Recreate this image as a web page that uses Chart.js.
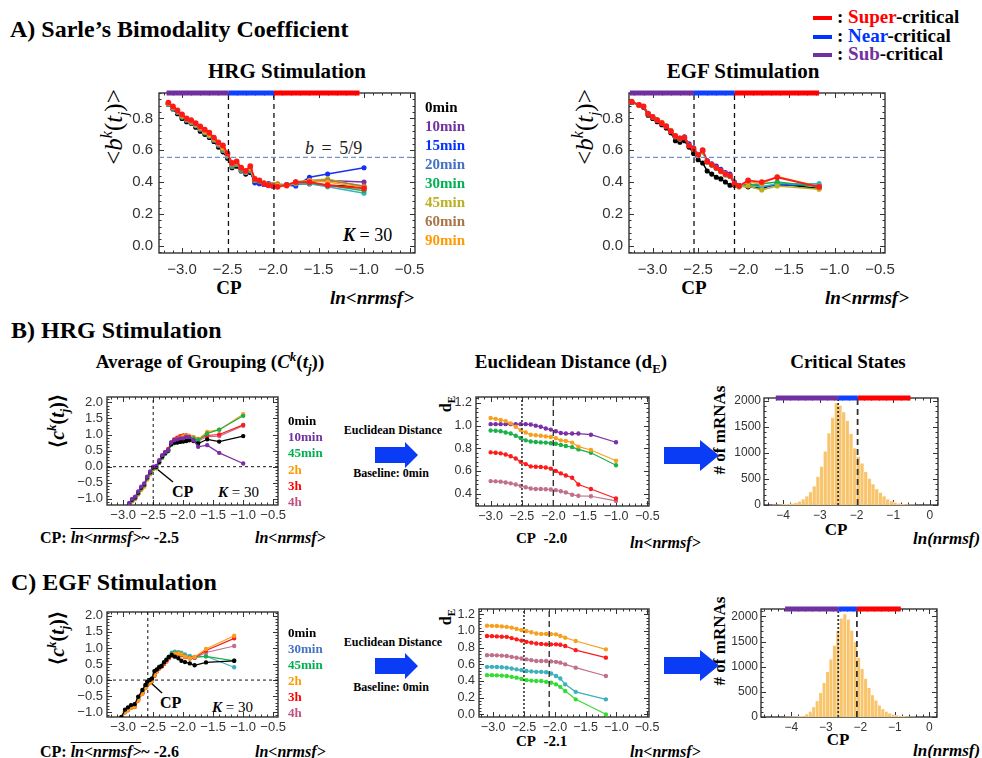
<!DOCTYPE html>
<html>
<head>
<meta charset="utf-8">
<script src="https://cdn.jsdelivr.net/npm/chart.js@4.4.1/dist/chart.umd.min.js"></script>
<style>
  html, body { margin: 0; padding: 0; background: #fff; }
  body { position: relative; width: 982px; height: 758px; overflow: hidden;
         font-family: "Liberation Serif", "Times New Roman", serif; }
  canvas { position: absolute; }
  svg { position: absolute; left: 0; top: 0; }
  .t { position: absolute; white-space: nowrap; font-weight: bold; line-height: 1; color: #000; }
  .c { transform: translateX(-50%); }
  .rot { transform: translate(-50%, -50%) rotate(-90deg); }
  .bi { font-style: italic; }
  sup, sub { line-height: 0; }
</style>
</head>
<body>

<!-- titles and labels -->
<div class="t" style="left:10px;top:17px;font-size:24px">A) Sarle’s Bimodality Coefficient</div>
<div class="t" style="left:837px;top:7px;font-size:19px">: <span style="color:#ff0000">Super</span>-critical</div>
<div class="t" style="left:837px;top:26px;font-size:19px">: <span style="color:#0033ff">Near</span>-critical</div>
<div class="t" style="left:837px;top:44px;font-size:19px">: <span style="color:#7030a0">Sub</span>-critical</div>

<div class="t c" style="left:287px;top:61px;font-size:21px">HRG Stimulation</div>
<div class="t c" style="left:743px;top:61px;font-size:21px">EGF Stimulation</div>
<div class="t rot" style="left:113px;top:127px;font-size:25px;font-weight:normal">&lt;<i>b</i><sup style="font-size:16px"><i>k</i></sup>(<i>t</i><sub style="font-size:15px"><i>j</i></sub>)&gt;</div>
<div class="t rot" style="left:584px;top:127px;font-size:25px;font-weight:normal">&lt;<i>b</i><sup style="font-size:16px"><i>k</i></sup>(<i>t</i><sub style="font-size:15px"><i>j</i></sub>)&gt;</div>
<div class="t" style="left:305px;top:139px;font-size:18px;font-weight:normal;color:#222;word-spacing:3px"><i>b</i> = 5/9</div>
<div class="t" style="left:343px;top:226px;font-size:18px;font-weight:normal"><b><i>K</i></b> = 30</div>
<div class="t c" style="left:229px;top:278px;font-size:19px">CP</div>
<div class="t c" style="left:694px;top:278px;font-size:19px">CP</div>
<div class="t bi" style="left:330px;top:288px;font-size:19px">ln&lt;nrmsf&gt;</div>
<div class="t bi" style="left:825px;top:288px;font-size:19px">ln&lt;nrmsf&gt;</div>

<div class="t" style="left:11px;top:318px;font-size:24px">B) HRG Stimulation</div>
<div class="t c" style="left:210px;top:352px;font-size:19px">Average of Grouping (<i>C</i><sup style="font-size:13px"><i>k</i></sup>(<i>t</i><sub style="font-size:13px"><i>j</i></sub>))</div>
<div class="t c" style="left:571px;top:352px;font-size:19px">Euclidean Distance (d<sub style="font-size:13px">E</sub>)</div>
<div class="t c" style="left:848px;top:352px;font-size:19px">Critical States</div>
<div class="t rot" style="left:57px;top:421px;font-size:20px">⟨<i>c</i><sup style="font-size:13px"><i>k</i></sup>(<i>t</i><sub style="font-size:12px"><i>j</i></sub>)⟩</div>
<div class="t" style="left:172px;top:484px;font-size:16px">CP</div>
<div class="t" style="left:218px;top:485px;font-size:15px;font-weight:normal"><b><i>K</i></b> = 30</div>
<div class="t" style="left:40px;top:530px;font-size:16px">CP: <span class="bi" style="text-decoration:overline">ln&lt;nrmsf&gt;</span>~ -2.5</div>
<div class="t bi" style="left:255px;top:530px;font-size:16px">ln&lt;nrmsf&gt;</div>
<div class="t c" style="left:393px;top:424px;font-size:12px">Euclidean Distance</div>
<div class="t c" style="left:391px;top:467px;font-size:12px">Baseline: 0min</div>
<div class="t rot" style="left:446px;top:404px;font-size:16px">d<sub style="font-size:11px">E</sub></div>
<div class="t" style="left:516px;top:531px;font-size:15px">CP&nbsp;&nbsp;-2.0</div>
<div class="t bi" style="left:630px;top:535px;font-size:16px">ln&lt;nrmsf&gt;</div>
<div class="t rot" style="left:719px;top:430px;font-size:17px"># of mRNAs</div>
<div class="t c" style="left:836px;top:521px;font-size:17px">CP</div>
<div class="t bi" style="left:913px;top:530px;font-size:17px">ln(nrmsf)</div>

<div class="t" style="left:11px;top:570px;font-size:24px">C) EGF Stimulation</div>
<div class="t rot" style="left:57px;top:638px;font-size:20px">⟨<i>c</i><sup style="font-size:13px"><i>k</i></sup>(<i>t</i><sub style="font-size:12px"><i>j</i></sub>)⟩</div>
<div class="t" style="left:160px;top:695px;font-size:16px">CP</div>
<div class="t" style="left:212px;top:700px;font-size:15px;font-weight:normal"><b><i>K</i></b> = 30</div>
<div class="t" style="left:40px;top:744px;font-size:16px">CP: <span class="bi" style="text-decoration:overline">ln&lt;nrmsf&gt;</span>~ -2.6</div>
<div class="t bi" style="left:255px;top:744px;font-size:16px">ln&lt;nrmsf&gt;</div>
<div class="t c" style="left:393px;top:636px;font-size:12px">Euclidean Distance</div>
<div class="t c" style="left:391px;top:681px;font-size:12px">Baseline: 0min</div>
<div class="t rot" style="left:446px;top:617px;font-size:16px">d<sub style="font-size:11px">E</sub></div>
<div class="t" style="left:516px;top:734px;font-size:15px">CP&nbsp;&nbsp;-2.1</div>
<div class="t bi" style="left:630px;top:744px;font-size:16px">ln&lt;nrmsf&gt;</div>
<div class="t rot" style="left:719px;top:641px;font-size:17px"># of mRNAs</div>
<div class="t c" style="left:838px;top:731px;font-size:17px">CP</div>
<div class="t bi" style="left:913px;top:742px;font-size:17px">ln(nrmsf)</div>

<svg width="982" height="758">
  <line x1="813" y1="18" x2="832" y2="18" stroke="#ff0000" stroke-width="4"/>
  <line x1="813" y1="37" x2="832" y2="37" stroke="#0033ff" stroke-width="4"/>
  <line x1="813" y1="55" x2="832" y2="55" stroke="#7030a0" stroke-width="4"/>
  <line x1="173" y1="482" x2="157" y2="469" stroke="#000" stroke-width="1.4"/>
  <line x1="162" y1="693" x2="150" y2="682" stroke="#000" stroke-width="1.4"/>
  <polygon points="375,447 405,447 405,442 418,455 405,468 405,463 375,463" fill="#0a3cf5"/>
  <polygon points="664,447 700,447 700,440 719,455.5 700,471 700,464 664,464" fill="#0a3cf5"/>
  <polygon points="375,658 405,658 405,653 418,666 405,679 405,674 375,674" fill="#0a3cf5"/>
  <polygon points="664,657 700,657 700,650 719,665.5 700,681 700,674 664,674" fill="#0a3cf5"/>
</svg>

<script>
// ---------- A) bimodality coefficient, HRG ----------
const hrgBX = [-3.15,-3.1,-3.05,-3.0,-2.95,-2.9,-2.85,-2.8,-2.75,-2.7,-2.65,-2.6,-2.55,-2.5,-2.45,-2.4,-2.35,-2.3,-2.25,-2.2,-2.15,-2.1,-2.05,-2.0,-1.95,-1.85,-1.75,-1.6,-1.4,-1.0];
const hrgB0  = [0.89,0.86,0.83,0.80,0.78,0.77,0.745,0.72,0.70,0.68,0.655,0.62,0.59,0.55,0.49,0.50,0.47,0.45,0.46,0.40,0.40,0.385,0.38,0.38,0.38,0.385,0.39,0.39,0.38,0.37];
const hrgB10 = [0.89,0.865,0.84,0.81,0.79,0.775,0.755,0.73,0.71,0.69,0.665,0.63,0.60,0.56,0.50,0.51,0.475,0.46,0.47,0.41,0.405,0.39,0.385,0.38,0.385,0.385,0.40,0.40,0.41,0.40];
const hrgB15 = [0.89,0.865,0.84,0.81,0.79,0.78,0.76,0.735,0.715,0.695,0.67,0.635,0.605,0.565,0.505,0.515,0.48,0.46,0.47,0.395,0.39,0.385,0.39,0.385,0.385,0.38,0.375,0.43,0.45,0.49];
const hrgB20 = [0.89,0.865,0.84,0.81,0.79,0.775,0.755,0.735,0.71,0.69,0.665,0.635,0.60,0.56,0.50,0.51,0.475,0.46,0.475,0.41,0.405,0.39,0.38,0.375,0.38,0.38,0.39,0.39,0.37,0.33];
const hrgB30 = [0.89,0.865,0.84,0.81,0.79,0.78,0.76,0.735,0.715,0.695,0.67,0.635,0.605,0.565,0.505,0.515,0.48,0.465,0.475,0.41,0.405,0.39,0.38,0.375,0.38,0.38,0.395,0.395,0.38,0.345];
const hrgB45 = [0.895,0.87,0.845,0.815,0.795,0.78,0.76,0.74,0.715,0.695,0.67,0.64,0.61,0.57,0.51,0.52,0.485,0.465,0.48,0.415,0.41,0.395,0.385,0.385,0.39,0.38,0.40,0.41,0.42,0.37];
const hrgB60 = [0.895,0.87,0.845,0.815,0.795,0.78,0.765,0.74,0.72,0.70,0.675,0.64,0.61,0.57,0.51,0.52,0.485,0.47,0.48,0.415,0.41,0.395,0.385,0.38,0.385,0.38,0.40,0.41,0.41,0.375];
const hrgB90 = [0.895,0.87,0.85,0.82,0.80,0.785,0.765,0.745,0.72,0.70,0.675,0.645,0.615,0.575,0.515,0.525,0.49,0.47,0.49,0.415,0.41,0.395,0.38,0.375,0.38,0.375,0.395,0.41,0.40,0.365];
const hrgBTop = [0.90,0.875,0.85,0.825,0.80,0.79,0.77,0.75,0.73,0.71,0.68,0.65,0.63,0.58,0.52,0.53,0.49,0.47,0.50,0.42,0.41,0.39,0.38,0.375,0.37,0.38,0.40,0.40,0.38,0.36];
const hrgBLabels = ["0min","10min","15min","20min","30min","45min","60min","90min"];
const hrgBCp = [-2.49, -1.99];
const hrgBBands = [-3.17, -2.49, -1.99, -1.05];

// ---------- A) bimodality coefficient, EGF ----------
const egfBX = [-3.23,-3.15,-3.1,-3.05,-3.0,-2.95,-2.9,-2.85,-2.8,-2.75,-2.7,-2.65,-2.6,-2.55,-2.5,-2.45,-2.4,-2.35,-2.3,-2.25,-2.2,-2.15,-2.1,-2.05,-1.95,-1.8,-1.63,-1.17];
const egfB0   = [0.90,0.885,0.87,0.82,0.80,0.78,0.76,0.74,0.71,0.66,0.65,0.66,0.62,0.58,0.54,0.52,0.47,0.45,0.43,0.42,0.40,0.38,0.38,0.375,0.37,0.36,0.39,0.36];
const egfB15  = [0.905,0.885,0.875,0.83,0.81,0.79,0.77,0.75,0.72,0.69,0.675,0.685,0.64,0.615,0.575,0.60,0.535,0.515,0.50,0.48,0.46,0.45,0.40,0.38,0.39,0.37,0.38,0.38];
const egfB20  = [0.905,0.885,0.875,0.83,0.81,0.79,0.77,0.75,0.72,0.685,0.67,0.68,0.63,0.61,0.57,0.59,0.53,0.51,0.49,0.47,0.45,0.44,0.395,0.375,0.38,0.37,0.39,0.39];
const egfB30  = [0.905,0.885,0.875,0.83,0.81,0.79,0.77,0.75,0.72,0.685,0.67,0.68,0.63,0.605,0.565,0.59,0.525,0.505,0.485,0.465,0.445,0.435,0.39,0.37,0.38,0.39,0.40,0.37];
const egfB45  = [0.905,0.885,0.875,0.83,0.81,0.79,0.775,0.755,0.725,0.69,0.675,0.68,0.63,0.61,0.57,0.595,0.53,0.51,0.49,0.47,0.45,0.44,0.39,0.37,0.375,0.35,0.375,0.355];
const egfB90  = [0.905,0.885,0.875,0.83,0.81,0.79,0.775,0.75,0.72,0.69,0.675,0.68,0.63,0.61,0.57,0.595,0.53,0.51,0.49,0.47,0.45,0.44,0.39,0.375,0.40,0.39,0.435,0.37];
const egfBTop = [0.905,0.885,0.875,0.83,0.81,0.79,0.77,0.75,0.72,0.69,0.675,0.68,0.63,0.61,0.57,0.60,0.53,0.51,0.49,0.47,0.45,0.44,0.39,0.375,0.41,0.40,0.43,0.37];
const egfBCp = [-2.545, -2.10];
const egfBBands = [-3.25, -2.545, -2.10, -1.17];
const bimodalLine = 5 / 9;

// ---------- B) average of grouping, HRG ----------
const hrgGX = [-2.9,-2.85,-2.8,-2.75,-2.7,-2.65,-2.6,-2.55,-2.5,-2.45,-2.4,-2.35,-2.3,-2.25,-2.2,-2.15,-2.1,-2.05,-2.0,-1.95,-1.9,-1.83,-1.75,-1.6,-1.4,-1.0];
const hrgG0   = [-1.15,-1.02,-0.95,-0.8,-0.65,-0.55,-0.33,-0.17,-0.02,0.0,0.15,0.32,0.42,0.5,0.7,0.75,0.75,0.77,0.78,0.80,0.82,0.80,0.72,0.85,0.78,0.95];
const hrgG10  = [-1.13,-1.0,-0.93,-0.77,-0.62,-0.52,-0.31,-0.15,0.0,0.02,0.2,0.36,0.45,0.52,0.75,0.82,0.85,0.88,0.88,0.93,0.92,0.82,0.62,0.67,0.43,0.10];
const hrgG45  = [-1.18,-1.05,-0.98,-0.83,-0.68,-0.58,-0.36,-0.2,-0.05,-0.03,0.12,0.28,0.40,0.48,0.68,0.73,0.76,0.80,0.84,0.88,0.88,0.88,0.82,1.03,1.15,1.58];
const hrgG2h  = [-1.2,-1.07,-1.0,-0.86,-0.72,-0.62,-0.40,-0.24,-0.08,-0.05,0.12,0.30,0.43,0.52,0.72,0.80,0.85,0.90,0.94,0.97,0.96,0.92,0.85,1.08,1.15,1.63];
const hrgG3h  = [-1.2,-1.07,-0.99,-0.85,-0.71,-0.6,-0.38,-0.22,-0.07,-0.04,0.14,0.32,0.45,0.55,0.75,0.85,0.90,0.95,0.97,0.98,0.95,0.92,0.86,0.97,1.0,1.30];
const hrgG4h  = [-1.19,-1.06,-0.98,-0.84,-0.7,-0.59,-0.37,-0.21,-0.06,-0.03,0.14,0.31,0.44,0.53,0.73,0.82,0.86,0.90,0.92,0.93,0.92,0.88,0.80,0.93,0.95,1.27];
const hrgGLabels = ["0min","10min","45min","2h","3h","4h"];
const hrgGCp = -2.5;

// ---------- C) average of grouping, EGF ----------
const egfGX = [-3.03,-2.97,-2.92,-2.87,-2.81,-2.75,-2.68,-2.63,-2.6,-2.56,-2.52,-2.48,-2.44,-2.4,-2.36,-2.32,-2.28,-2.24,-2.19,-2.14,-2.08,-2.03,-1.97,-1.89,-1.81,-1.62,-1.15];
const egfG0   = [-1.15,-0.92,-0.85,-0.78,-0.75,-0.52,-0.31,-0.15,-0.05,0.0,0.05,0.28,0.33,0.40,0.44,0.55,0.63,0.72,0.78,0.73,0.68,0.60,0.56,0.52,0.46,0.55,0.60];
const egfG30  = [-1.18,-0.98,-0.9,-0.82,-0.8,-0.6,-0.38,-0.2,-0.13,-0.05,0.0,0.18,0.3,0.42,0.44,0.55,0.62,0.72,0.85,0.88,0.87,0.85,0.80,0.75,0.72,0.74,0.40];
const egfG45  = [-1.18,-0.98,-0.9,-0.83,-0.8,-0.6,-0.38,-0.2,-0.13,-0.05,0.02,0.17,0.3,0.4,0.45,0.56,0.64,0.72,0.82,0.85,0.84,0.80,0.74,0.70,0.71,0.74,0.60];
const egfG2h  = [-1.2,-1.0,-0.93,-0.86,-0.83,-0.63,-0.42,-0.24,-0.16,-0.08,-0.02,0.14,0.28,0.38,0.44,0.52,0.60,0.70,0.77,0.82,0.83,0.80,0.73,0.68,0.72,0.97,1.38];
const egfG3h  = [-1.2,-1.0,-0.94,-0.86,-0.84,-0.64,-0.42,-0.25,-0.16,-0.08,-0.03,0.13,0.27,0.36,0.42,0.50,0.58,0.68,0.76,0.80,0.82,0.78,0.72,0.68,0.70,0.92,1.30];
const egfG4h  = [-1.19,-0.99,-0.92,-0.85,-0.82,-0.62,-0.4,-0.23,-0.15,-0.07,-0.02,0.14,0.28,0.37,0.43,0.51,0.59,0.69,0.76,0.80,0.81,0.78,0.72,0.67,0.69,0.86,1.06];
const egfGLabels = ["0min","30min","45min","2h","3h","4h"];
const egfGCp = -2.59;

// ---------- Euclidean distance ----------
const hrgDX = [-3.0,-2.92,-2.84,-2.76,-2.68,-2.6,-2.52,-2.44,-2.36,-2.28,-2.2,-2.12,-2.04,-1.96,-1.88,-1.8,-1.7,-1.6,-1.4,-1.0];
const hrgD2h  = [1.067,1.06,1.05,1.04,1.02,0.99,0.96,0.94,0.92,0.915,0.91,0.905,0.90,0.89,0.87,0.865,0.85,0.815,0.785,0.69];
const hrgD10  = [1.013,1.013,1.013,1.013,1.013,1.013,1.013,1.013,1.01,1.0,0.99,0.975,0.965,0.95,0.935,0.93,0.93,0.93,0.92,0.853];
const hrgD45  = [0.957,0.955,0.95,0.94,0.93,0.91,0.89,0.87,0.86,0.855,0.852,0.85,0.845,0.84,0.83,0.82,0.81,0.79,0.76,0.65];
const hrgD3h  = [0.764,0.76,0.755,0.745,0.73,0.71,0.68,0.66,0.64,0.637,0.635,0.63,0.62,0.60,0.578,0.56,0.54,0.48,0.44,0.356];
const hrgD4h  = [0.51,0.508,0.505,0.498,0.49,0.48,0.468,0.455,0.445,0.44,0.44,0.438,0.436,0.43,0.42,0.41,0.39,0.38,0.376,0.335];
const hrgDCp = [-2.5, -2.0];

const egfDX = [-3.1,-3.02,-2.94,-2.86,-2.78,-2.7,-2.62,-2.54,-2.46,-2.38,-2.3,-2.22,-2.14,-2.06,-1.98,-1.91,-1.83,-1.66,-1.17];
const egfD2h  = [1.064,1.062,1.06,1.055,1.05,1.04,1.025,1.01,1.0,0.985,0.97,0.965,0.965,0.963,0.96,0.94,0.92,0.88,0.78];
const egfD3h  = [0.94,0.938,0.935,0.932,0.93,0.915,0.9,0.885,0.87,0.86,0.85,0.845,0.84,0.84,0.84,0.835,0.82,0.77,0.68];
const egfD4h  = [0.71,0.71,0.708,0.705,0.70,0.69,0.68,0.67,0.66,0.65,0.64,0.64,0.64,0.635,0.63,0.62,0.60,0.56,0.46];
const egfD30  = [0.57,0.57,0.568,0.565,0.56,0.55,0.54,0.53,0.52,0.515,0.51,0.51,0.505,0.49,0.46,0.43,0.36,0.27,0.18];
const egfD45  = [0.47,0.47,0.468,0.465,0.46,0.45,0.44,0.425,0.41,0.405,0.40,0.40,0.39,0.38,0.36,0.33,0.28,0.18,0.0];
const egfDCp = [-2.5, -2.09];

// ---------- critical states histograms ----------
const hrgHistX = [-4.25,-4.15,-4.05,-3.95,-3.85,-3.75,-3.65,-3.55,-3.45,-3.35,-3.25,-3.15,-3.05,-2.95,-2.85,-2.75,-2.65,-2.55,-2.45,-2.35,-2.25,-2.15,-2.05,-1.95,-1.85,-1.75,-1.65,-1.55,-1.45,-1.35,-1.25,-1.15,-1.05,-0.95,-0.85,-0.75,-0.65,-0.55,-0.45];
const hrgHistN = [3,5,8,12,18,28,45,70,110,170,250,360,545,740,1030,1380,1680,1960,1915,1790,1620,1370,1090,930,800,640,510,400,310,240,170,110,75,50,30,18,8,4,2];
const hrgHistCp = [-2.5, -1.97];
const hrgHistBands = [-4.2, -2.5, -1.97, -0.53];

const egfHistX = [-4.15,-4.05,-3.95,-3.85,-3.75,-3.65,-3.55,-3.45,-3.35,-3.25,-3.15,-3.05,-2.95,-2.85,-2.75,-2.65,-2.55,-2.45,-2.35,-2.25,-2.15,-2.05,-1.95,-1.85,-1.75,-1.65,-1.55,-1.45,-1.35,-1.25,-1.15,-1.05,-0.95,-0.85,-0.75,-0.65,-0.55,-0.45];
const egfHistN = [2,4,6,10,16,25,55,110,200,320,480,680,900,1150,1420,1720,1960,2050,1940,1720,1490,1180,960,760,580,440,330,230,160,110,75,50,35,22,14,8,4,2];
const egfHistCp = [-2.64, -2.1];
const egfHistBands = [-4.18, -2.64, -2.1, -0.83];

// ---------- tick labels ----------
const ticksA_X = [-3.0,-2.5,-2.0,-1.5,-1.0,-0.5];
const ticksA_Y = [0.0,0.2,0.4,0.6,0.8];
const ticksG_Y = [-1.0,-0.5,0.0,0.5,1.0,1.5,2.0];
const ticksDH_Y = [0.4,0.6,0.8,1.0,1.2];
const ticksDE_Y = [0.0,0.2,0.4,0.6,0.8,1.0,1.2];
const ticksH_X = [-4,-3,-2,-1,0];
const ticksH_Y = [0,500,1000,1500,2000];

// ---------- styles ----------
const C = {
  black: "#000000", purple: "#7b2fa5", blue: "#1432f5", teal: "#3cb0bf", green: "#1bb04a",
  olive: "#b8b020", brown: "#a8784e", orange: "#f7a020", red: "#ff1a1a", mauve: "#c0708a",
  bandSub: "#7030a0", bandNear: "#1040ff", bandSuper: "#ff0000"
};
const legendA = ["#000000","#7030a0","#0033ff","#4472c4","#00b050","#bbb020","#a87448","#ff9a00"];
const legendB = ["#000000","#7030a0","#00b050","#ff9900","#ff0000","#c05080"];
const legendC = ["#000000","#4472c4","#00b050","#ff9900","#ff0000","#c05080"];
const SANS = '"Liberation Sans", Arial, sans-serif';

const fmt = d => v => (v < 0 ? "\u2212" : "") + Math.abs(v).toFixed(d);

function legend(labels, colors, left, top, step, size) {
  labels.forEach((lab, i) => {
    const d = document.createElement("div");
    d.className = "t";
    d.style.cssText = `left:${left}px;top:${top + i * step}px;font-size:${size}px;color:${colors[i]}`;
    d.textContent = lab;
    document.body.appendChild(d);
  });
}

// frame box with inward major/minor ticks
const framePlugin = {
  id: "frame",
  beforeDatasetsDraw(chart) {
    const { ctx, chartArea: a, scales: { x, y } } = chart;
    ctx.save();
    ctx.strokeStyle = "#333";
    ctx.lineWidth = 1.4;
    ctx.strokeRect(a.left, a.top, a.right - a.left, a.bottom - a.top);
    ctx.lineWidth = 1;
    ctx.beginPath();
    [[x, true], [y, false]].forEach(([s, horiz]) => {
      const tv = s.ticks.map(t => t.value);
      const step = (tv[1] - tv[0]) / 5;
      const k0 = Math.ceil((s.min - tv[0]) / step - 1e-6);
      const k1 = Math.floor((s.max - tv[0]) / step + 1e-6);
      for (let k = k0; k <= k1; k++) {
        const p = Math.round(s.getPixelForValue(tv[0] + k * step)) + 0.5;
        const len = k % 5 === 0 ? 5 : 2.5;
        if (horiz) {
          ctx.moveTo(p, a.bottom); ctx.lineTo(p, a.bottom - len);
          ctx.moveTo(p, a.top); ctx.lineTo(p, a.top + len);
        } else {
          ctx.moveTo(a.left, p); ctx.lineTo(a.left + len, p);
          ctx.moveTo(a.right, p); ctx.lineTo(a.right - len, p);
        }
      }
    });
    ctx.stroke();
    ctx.restore();
  }
};

function series(xs, ys, color, w, r) {
  return { type: "line", data: xs.map((x, i) => ({ x, y: ys[i] })), borderColor: color, backgroundColor: color,
    borderWidth: w, pointRadius: r, pointHoverRadius: 0, tension: 0, order: 1 };
}
function vline(x, yr, dash, w, color) {
  return { type: "line", data: [{ x, y: yr[0] }, { x, y: yr[1] }], borderColor: color || "#111",
    borderWidth: w, borderDash: dash, pointRadius: 0, order: 0 };
}
function hline(y, xr, dash, w, color) {
  return { type: "line", data: [{ x: xr[0], y }, { x: xr[1], y }], borderColor: color || "#111",
    borderWidth: w, borderDash: dash, pointRadius: 0, order: 0 };
}
function bands(b, y) {
  const cols = [C.bandSub, C.bandNear, C.bandSuper];
  return cols.map((col, i) => ({ type: "line", data: [{ x: b[i], y }, { x: b[i + 1], y }], borderColor: col,
    borderWidth: 5, borderCapStyle: "butt", pointRadius: 0, clip: false, order: 0 }));
}
function hist(xs, ns) {
  return { type: "bar", data: xs.map((x, i) => ({ x, y: ns[i] })), backgroundColor: "#f8c46c",
    borderColor: "rgba(255,240,215,0.9)", borderWidth: 0.6, barPercentage: 1, categoryPercentage: 1, order: 10 };
}

function panel(box, xr, yr, xTicks, yTicks, o, datasets) {
  const AX = o.ax, PT = 8, PR = 16, AB = 28;
  const w = box[2] - box[0] + AX + PR, h = box[3] - box[1] + PT + AB;
  const c = document.createElement("canvas");
  c.width = w; c.height = h;
  c.style.left = (box[0] - AX) + "px";
  c.style.top = (box[1] - PT) + "px";
  document.body.appendChild(c);
  return new Chart(c, {
    type: "line",
    data: { datasets },
    options: {
      responsive: false, animation: false, events: [],
      layout: { padding: { left: 0, top: PT, right: PR, bottom: 0 } },
      plugins: { legend: { display: false }, tooltip: { enabled: false } },
      scales: {
        x: { type: "linear", min: xr[0], max: xr[1], offset: false,
          grid: { display: false, drawTicks: false }, border: { display: false },
          afterBuildTicks: s => { s.ticks = xTicks.map(v => ({ value: v })); },
          afterFit: s => { s.height = AB; s.paddingLeft = 0; s.paddingRight = 0; },
          ticks: { autoSkip: false, maxRotation: 0, padding: o.px, color: "#333",
            font: { family: SANS, size: o.fs }, callback: o.fx } },
        y: { type: "linear", min: yr[0], max: yr[1],
          grid: { display: false, drawTicks: false }, border: { display: false },
          afterBuildTicks: s => { s.ticks = yTicks.map(v => ({ value: v })); },
          afterFit: s => { s.width = AX; s.paddingTop = 0; s.paddingBottom = 0; },
          ticks: { autoSkip: false, padding: o.py, color: "#333",
            font: { family: SANS, size: o.fs }, callback: o.fy } }
      }
    },
    plugins: [framePlugin]
  });
}

// A-left: HRG bimodality
{
  const xr = [-3.253, -0.44], yr = [-0.046, 0.96];
  panel([159, 93, 415, 253], xr, yr, ticksA_X, ticksA_Y,
    { ax: 46, fs: 15, px: 8, py: 6, fx: fmt(1), fy: fmt(1) }, [
      ...bands(hrgBBands, yr[1]),
      vline(hrgBCp[0], yr, [5, 4], 1.3), vline(hrgBCp[1], yr, [5, 4], 1.3),
      hline(bimodalLine, xr, [5, 3], 1.2, "#6f93cc"),
      series(hrgBX, hrgBTop, C.red, 1.8, 2),
      series(hrgBX, hrgB90, C.orange, 1.5, 1.8),
      series(hrgBX, hrgB60, C.brown, 1.5, 1.8),
      series(hrgBX, hrgB45, C.olive, 1.5, 1.8),
      series(hrgBX, hrgB30, C.green, 1.5, 1.8),
      series(hrgBX, hrgB20, C.teal, 1.5, 1.8),
      series(hrgBX, hrgB15, C.blue, 1.5, 1.8),
      series(hrgBX, hrgB10, C.purple, 1.5, 1.8),
      series(hrgBX, hrgB0, C.black, 1.5, 1.8)
    ]);
  legend(hrgBLabels, legendA, 425, 100, 19, 15);
}

// A-right: EGF bimodality
{
  const xr = [-3.26, -0.445], yr = [-0.046, 0.96];
  panel([629, 93, 885, 253], xr, yr, ticksA_X, ticksA_Y,
    { ax: 46, fs: 15, px: 8, py: 6, fx: fmt(1), fy: fmt(1) }, [
      ...bands(egfBBands, yr[1]),
      vline(egfBCp[0], yr, [5, 4], 1.3), vline(egfBCp[1], yr, [5, 4], 1.3),
      hline(bimodalLine, xr, [5, 3], 1.2, "#6f93cc"),
      series(egfBX, egfBTop, C.red, 1.8, 2),
      series(egfBX, egfB90, C.orange, 1.5, 1.8),
      series(egfBX, egfB45, C.olive, 1.5, 1.8),
      series(egfBX, egfB30, C.green, 1.5, 1.8),
      series(egfBX, egfB20, C.teal, 1.5, 1.8),
      series(egfBX, egfB15, C.blue, 1.5, 1.8),
      series(egfBX, egfB0, C.black, 1.5, 1.8)
    ]);
}

// B-left: HRG grouping
{
  const xr = [-3.27, -0.42], yr = [-1.19, 2.165];
  panel([107, 397, 278, 505], xr, yr, ticksA_X, ticksG_Y,
    { ax: 40, fs: 13, px: 3, py: 4, fx: fmt(1), fy: fmt(1) }, [
      vline(hrgGCp, yr, [3, 3], 1), hline(0, xr, [3, 3], 1),
      series(hrgGX, hrgG10, C.purple, 1.2, 1.6),
      series(hrgGX, hrgG0, C.black, 1.2, 1.6),
      series(hrgGX, hrgG45, C.green, 1.2, 1.6),
      series(hrgGX, hrgG2h, C.orange, 1.2, 1.6),
      series(hrgGX, hrgG3h, C.red, 1.2, 1.6),
      series(hrgGX, hrgG4h, C.mauve, 1.2, 1.6)
    ]);
  legend(hrgGLabels, legendB, 288, 414, 16.2, 13);
}

// C-left: EGF grouping
{
  const xr = [-3.27, -0.42], yr = [-1.15, 2.12];
  panel([107, 612, 278, 717], xr, yr, ticksA_X, ticksG_Y,
    { ax: 40, fs: 13, px: 3, py: 4, fx: fmt(1), fy: fmt(1) }, [
      vline(egfGCp, yr, [3, 3], 1), hline(0, xr, [3, 3], 1),
      series(egfGX, egfG0, C.black, 1.2, 1.6),
      series(egfGX, egfG2h, C.orange, 1.2, 1.6),
      series(egfGX, egfG3h, C.red, 1.2, 1.6),
      series(egfGX, egfG4h, C.mauve, 1.2, 1.6),
      series(egfGX, egfG45, C.green, 1.2, 1.6),
      series(egfGX, egfG30, C.teal, 1.2, 1.6)
    ]);
  legend(egfGLabels, legendC, 288, 626, 16, 13);
}

// B-middle: HRG Euclidean distance
{
  const xr = [-3.233, -0.474], yr = [0.29, 1.253];
  panel([476, 397, 649, 506], xr, yr, ticksA_X, ticksDH_Y,
    { ax: 36, fs: 12.5, px: 3, py: 4, fx: fmt(1), fy: fmt(1) }, [
      vline(hrgDCp[0], yr, [2, 2], 1.6, "#333"), vline(hrgDCp[1], yr, [6, 4], 1.4, "#333"),
      series(hrgDX, hrgD2h, C.orange, 1.2, 1.6),
      series(hrgDX, hrgD10, C.purple, 1.2, 1.6),
      series(hrgDX, hrgD45, C.green, 1.2, 1.6),
      series(hrgDX, hrgD3h, C.red, 1.2, 1.6),
      series(hrgDX, hrgD4h, C.mauve, 1.2, 1.6)
    ]);
}

// C-middle: EGF Euclidean distance
{
  const xr = [-3.23, -0.47], yr = [-0.032, 1.264];
  panel([479, 609, 649, 717], xr, yr, ticksA_X, ticksDE_Y,
    { ax: 36, fs: 12.5, px: 3, py: 4, fx: fmt(1), fy: fmt(1) }, [
      vline(egfDCp[0], yr, [2, 2], 1.6, "#333"), vline(egfDCp[1], yr, [6, 4], 1.4, "#333"),
      series(egfDX, egfD2h, C.orange, 1.2, 1.6),
      series(egfDX, egfD3h, C.red, 1.2, 1.6),
      series(egfDX, egfD4h, C.mauve, 1.2, 1.6),
      series(egfDX, egfD30, C.teal, 1.2, 1.6),
      series(egfDX, egfD45, "#33dd33", 1.2, 1.6)
    ]);
}

// B-right: HRG critical states
{
  const xr = [-4.52, 0.22], yr = [0, 2057];
  panel([764, 398, 938, 505], xr, yr, ticksH_X, ticksH_Y,
    { ax: 40, fs: 12, px: 3, py: 3, fx: fmt(0), fy: fmt(0) }, [
      ...bands(hrgHistBands, yr[1]),
      vline(hrgHistCp[0], yr, [2, 2], 1.8, "#333"), vline(hrgHistCp[1], yr, [6, 4], 1.8, "#333"),
      hist(hrgHistX, hrgHistN)
    ]);
}

// C-right: EGF critical states
{
  const xr = [-4.878, 0.22], yr = [0, 2147];
  panel([761, 609, 937, 717], xr, yr, ticksH_X, ticksH_Y,
    { ax: 40, fs: 12, px: 3, py: 3, fx: fmt(0), fy: fmt(0) }, [
      ...bands(egfHistBands, yr[1]),
      vline(egfHistCp[0], yr, [2, 2], 1.8, "#333"), vline(egfHistCp[1], yr, [6, 4], 1.8, "#333"),
      hist(egfHistX, egfHistN)
    ]);
}
</script>
</body>
</html>
